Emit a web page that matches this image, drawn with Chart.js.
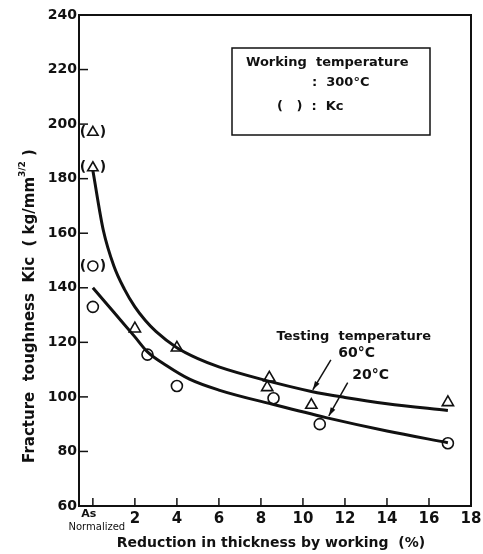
<!DOCTYPE html>
<html>
<head>
<meta charset="utf-8">
<script src="https://cdn.jsdelivr.net/npm/chart.js@4.4.1/dist/chart.umd.min.js"></script>
<style>body{margin:0;background:#fff}</style>
</head>
<body>
<canvas id="c" width="483" height="554"></canvas>
<script>
// valeurs
var xTicks = [0, 2, 4, 6, 8, 10, 12, 14, 16, 18];
var yTicks = [60, 80, 100, 120, 140, 160, 180, 200, 220, 240];

// essais a 60°C (triangles)
var tri60X = [2, 4, 8.3, 8.4, 10.4, 16.9];
var tri60Y = [125, 118, 103.5, 107, 97, 98];
// essais a 20°C (cercles)
var circ20X = [0, 2.6, 4, 8.6, 10.8, 16.9];
var circ20Y = [133, 115.5, 104, 99.5, 90, 83];
// valeurs Kc (entre parentheses)
var kcTriX = [0, 0];
var kcTriY = [197, 184];
var kcCircX = [0];
var kcCircY = [148];

// courbes tracees a la main
var curve60X = [0, 0.5, 1, 1.5, 2, 2.5, 3, 4, 5, 6, 8, 10.4, 12, 14, 16.9];
var curve60Y = [183, 161, 148, 139.5, 133, 128, 124, 118, 114, 111, 106.5, 102, 99.8, 97.5, 95];
var curve20X = [0, 1, 2, 2.6, 3.5, 4.6, 6, 8.7, 11.1, 14, 16.9];
var curve20Y = [140, 131, 122, 116.5, 111.5, 106.5, 102.5, 97, 92.4, 87.5, 83.2];

function pts(xs, ys) {
    return xs.map((x, i) => ({x: x, y: ys[i]}));
}

const FONT = '"DejaVu Sans", sans-serif';
const INK = '#111';

// dessins supplementaires : ticks interieurs, cadre, legende, fleches, titres
const decor = {
    id: 'decor',
    afterDraw(chart) {
        const c = chart.ctx;
        const a = chart.chartArea;
        const sx = chart.scales.x, sy = chart.scales.y;
        c.save();
        c.strokeStyle = INK;
        c.fillStyle = INK;

        // cadre haut et droite
        c.lineWidth = 2;
        c.beginPath();
        c.moveTo(a.left, a.top); c.lineTo(a.right, a.top); c.lineTo(a.right, a.bottom);
        c.stroke();

        // ticks vers l'interieur
        c.lineWidth = 1.5;
        xTicks.forEach(v => {
            const px = sx.getPixelForValue(v);
            c.beginPath(); c.moveTo(px, a.bottom); c.lineTo(px, a.bottom - 8); c.stroke();
        });
        yTicks.forEach(v => {
            const py = sy.getPixelForValue(v);
            c.beginPath(); c.moveTo(a.left, py); c.lineTo(a.left + 9, py); c.stroke();
        });

        // label "As Normalized"
        c.textAlign = 'center';
        c.textBaseline = 'middle';
        const x0 = sx.getPixelForValue(0);
        c.font = 'bold 11px ' + FONT;
        c.fillText('As', x0 - 4, a.bottom + 8);
        c.font = '10px ' + FONT;
        c.fillText('Normalized', x0 + 4, a.bottom + 21);

        // parentheses autour des Kc
        c.font = 'bold 14px ' + FONT;
        kcTriX.concat(kcCircX).forEach((x, i) => {
            const y = kcTriY.concat(kcCircY)[i];
            const px = sx.getPixelForValue(x), py = sy.getPixelForValue(y);
            c.fillText('(', px - 10, py);
            c.fillText(')', px + 10, py);
        });

        // boite legende
        c.lineWidth = 1.5;
        c.strokeRect(232, 48, 198, 87);
        c.font = 'bold 13px ' + FONT;
        c.textAlign = 'left';
        c.fillText('Working  temperature', 246, 63);
        c.fillText(':  300°C', 312, 83);
        c.fillText('(   )  :  Kc', 277, 107);

        // texte "Testing temperature" et fleches
        const P = (x, y) => [sx.getPixelForValue(x), sy.getPixelForValue(y)];
        c.textAlign = 'center';
        c.font = 'bold 13px ' + FONT;
        let t = P(12.42, 122.2);
        c.fillText('Testing  temperature', t[0], t[1]);
        c.font = 'bold 14px ' + FONT;
        t = P(12.56, 115.8);
        c.fillText('60°C', t[0], t[1]);
        t = P(13.22, 107.8);
        c.fillText('20°C', t[0], t[1]);

        function arrow(x1, y1, x2, y2) {
            const p1 = P(x1, y1), p2 = P(x2, y2);
            c.lineWidth = 1.5;
            c.beginPath(); c.moveTo(p1[0], p1[1]); c.lineTo(p2[0], p2[1]); c.stroke();
            const ang = Math.atan2(p2[1] - p1[1], p2[0] - p1[0]);
            c.beginPath();
            c.moveTo(p2[0], p2[1]);
            c.lineTo(p2[0] - 9 * Math.cos(ang - 0.3), p2[1] - 9 * Math.sin(ang - 0.3));
            c.lineTo(p2[0] - 9 * Math.cos(ang + 0.3), p2[1] - 9 * Math.sin(ang + 0.3));
            c.closePath(); c.fill();
        }
        arrow(11.33, 113.6, 10.47, 102.6);
        arrow(12.13, 105.2, 11.23, 93);

        // titre axe x
        c.font = 'bold 14px ' + FONT;
        c.fillText('Reduction in thickness by working  (%)', 271, 543);

        // titre axe y (vertical, avec exposant 3/2)
        c.translate(30, 306);
        c.rotate(-Math.PI / 2);
        const s1 = 'Fracture  toughness  Kic  ( kg/mm';
        const s3 = ' )';
        c.font = 'bold 9px ' + FONT;
        const wSup = c.measureText('3/2').width;
        c.font = 'bold 15px ' + FONT;
        const w1 = c.measureText(s1).width, w3 = c.measureText(s3).width;
        let start = -(w1 + wSup + w3) / 2;
        c.textAlign = 'left';
        c.fillText(s1, start, 0);
        c.font = 'bold 9px ' + FONT;
        c.fillText('3/2', start + w1, -7);
        c.font = 'bold 15px ' + FONT;
        c.fillText(s3, start + w1 + wSup, 0);

        c.restore();
    }
};

const ctx = document.getElementById('c').getContext('2d');
const myChart = new Chart(ctx, {
    type: 'scatter',
    data: {
        datasets: [
            {
                label: '60°C curve',
                type: 'line',
                data: pts(curve60X, curve60Y),
                borderColor: INK,
                borderWidth: 3,
                pointRadius: 0,
                cubicInterpolationMode: 'monotone',
                fill: false
            },
            {
                label: '20°C curve',
                type: 'line',
                data: pts(curve20X, curve20Y),
                borderColor: INK,
                borderWidth: 3,
                pointRadius: 0,
                cubicInterpolationMode: 'monotone',
                fill: false
            },
            {
                label: '60°C',
                data: pts(tri60X, tri60Y),
                pointStyle: 'triangle',
                pointRadius: 6.5,
                borderColor: INK,
                borderWidth: 1.6,
                backgroundColor: '#fff'
            },
            {
                label: '20°C',
                data: pts(circ20X, circ20Y),
                pointStyle: 'circle',
                pointRadius: 5.5,
                borderColor: INK,
                borderWidth: 1.6,
                backgroundColor: '#fff'
            },
            {
                label: 'Kc 60°C',
                data: pts(kcTriX, kcTriY),
                pointStyle: 'triangle',
                pointRadius: 6,
                borderColor: INK,
                borderWidth: 1.6,
                backgroundColor: '#fff'
            },
            {
                label: 'Kc 20°C',
                data: pts(kcCircX, kcCircY),
                pointStyle: 'circle',
                pointRadius: 5,
                borderColor: INK,
                borderWidth: 1.6,
                backgroundColor: '#fff'
            }
        ]
    },
    options: {
        responsive: false,
        animation: false,
        devicePixelRatio: 1,
        layout: { padding: { top: 15, right: 12, left: 0, bottom: 0 } },
        plugins: {
            legend: { display: false },
            tooltip: { enabled: false }
        },
        scales: {
            x: {
                type: 'linear',
                min: -0.66,
                max: 18,
                afterBuildTicks: (s) => { s.ticks = xTicks.map(v => ({value: v})); },
                afterFit: (s) => { s.height = 48; s.paddingLeft = 0; s.paddingRight = 0; },
                ticks: {
                    callback: (v) => v === 0 ? '' : v,
                    font: { family: FONT, size: 15, weight: 'bold' },
                    color: INK,
                    padding: 4,
                    maxRotation: 0,
                    autoSkip: false
                },
                grid: { display: false, drawTicks: false },
                border: { color: INK, width: 2 }
            },
            y: {
                min: 60,
                max: 240,
                afterBuildTicks: (s) => { s.ticks = yTicks.map(v => ({value: v})); },
                afterFit: (s) => { s.width = 79; s.paddingTop = 0; s.paddingBottom = 0; },
                ticks: {
                    font: { family: FONT, size: 14, weight: 'bold' },
                    color: INK,
                    padding: 2,
                    autoSkip: false
                },
                grid: { display: false, drawTicks: false },
                border: { color: INK, width: 2 }
            }
        }
    },
    plugins: [decor]
});
</script>
</body>
</html>
